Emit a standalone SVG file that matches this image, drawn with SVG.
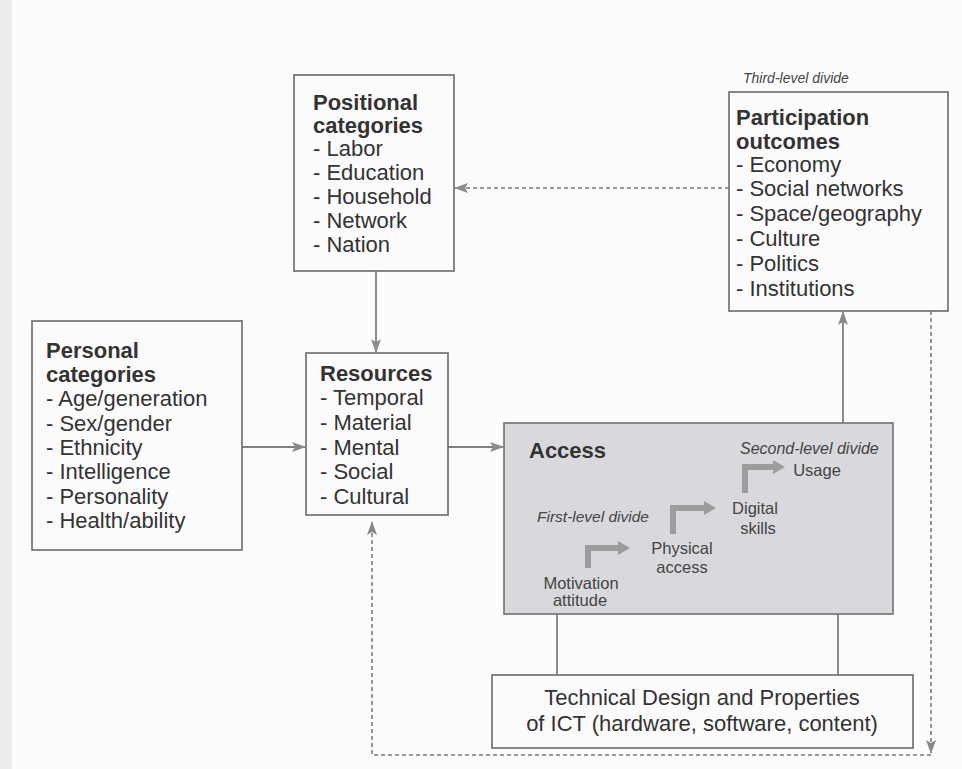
<svg xmlns="http://www.w3.org/2000/svg" width="962" height="769" viewBox="0 0 962 769">
  <defs>
    <style>
      .box { fill: #fbfbfb; stroke: #6a6a6a; stroke-width: 1.6; }
      .access { fill: #d9d9dd; stroke: #707070; stroke-width: 1.6; }
      .t { font-family: "Liberation Sans", Arial, sans-serif; font-size: 22px; fill: #333; }
      .b { font-weight: bold; }
      .it { font-family: "Liberation Sans", Arial, sans-serif; font-style: italic; fill: #444; }
      .s { font-family: "Liberation Sans", Arial, sans-serif; font-size: 16.5px; fill: #444; text-anchor: middle; }
      .conn { stroke: #808080; stroke-width: 1.8; fill: none; }
      .dash { stroke: #7a7a7a; stroke-width: 1.6; fill: none; stroke-dasharray: 4 3; }
      .bent { stroke: #9c9c9c; stroke-width: 6; fill: none; }
    </style>
    <marker id="ah" viewBox="0 0 14 10" refX="13" refY="5" markerWidth="14" markerHeight="10" markerUnits="userSpaceOnUse" orient="auto">
      <path d="M0,0 L14,5 L0,10 L3,5 Z" fill="#8a8a8a"/>
    </marker>
    <marker id="bh" viewBox="0 0 12 14" refX="4" refY="7" markerWidth="12" markerHeight="14" markerUnits="userSpaceOnUse" orient="auto">
      <path d="M0,0 L12,7 L0,14 Z" fill="#9c9c9c"/>
    </marker>
  </defs>
  <rect x="0" y="0" width="962" height="769" fill="#fcfcfc"/>
  <rect x="0" y="0" width="12" height="769" fill="#ececec"/>

  <g id="connectors">
    <line class="conn" x1="376" y1="271" x2="376" y2="352" marker-end="url(#ah)"/>
    <line class="conn" x1="242" y1="447" x2="305" y2="447" marker-end="url(#ah)"/>
    <line class="conn" x1="448" y1="447" x2="503" y2="447" marker-end="url(#ah)"/>
    <line class="conn" x1="843" y1="423" x2="843" y2="312" marker-end="url(#ah)"/>
    <line class="dash" x1="729" y1="188" x2="455" y2="188" marker-end="url(#ah)"/>
    <line class="conn" x1="557" y1="614" x2="557" y2="675"/>
    <line class="conn" x1="838" y1="614" x2="838" y2="675"/>
    <path class="dash" d="M931,311 V753" marker-end="url(#ah)"/>
    <path class="dash" d="M931,755 H372 V522" marker-end="url(#ah)"/>
  </g>

  <g id="positional">
    <rect class="box" x="294" y="75" width="160" height="196"/>
    <text class="t b" x="313" y="110">Positional</text>
    <text class="t b" x="313" y="133">categories</text>
    <text class="t" x="313" y="156">- Labor</text>
    <text class="t" x="313" y="180">- Education</text>
    <text class="t" x="313" y="204">- Household</text>
    <text class="t" x="313" y="228">- Network</text>
    <text class="t" x="313" y="252">- Nation</text>
  </g>

  <g id="participation">
    <text class="it" x="743" y="83" font-size="14">Third-level divide</text>
    <rect class="box" x="729" y="92" width="219" height="219"/>
    <text class="t b" x="736" y="125">Participation</text>
    <text class="t b" x="736" y="149">outcomes</text>
    <text class="t" x="736" y="172">- Economy</text>
    <text class="t" x="736" y="196">- Social networks</text>
    <text class="t" x="736" y="221">- Space/geography</text>
    <text class="t" x="736" y="246">- Culture</text>
    <text class="t" x="736" y="271">- Politics</text>
    <text class="t" x="736" y="296">- Institutions</text>
  </g>

  <g id="personal">
    <rect class="box" x="32" y="321" width="210" height="229"/>
    <text class="t b" x="46" y="358">Personal</text>
    <text class="t b" x="46" y="382">categories</text>
    <text class="t" x="46" y="406">- Age/generation</text>
    <text class="t" x="46" y="431">- Sex/gender</text>
    <text class="t" x="46" y="455">- Ethnicity</text>
    <text class="t" x="46" y="479">- Intelligence</text>
    <text class="t" x="46" y="504">- Personality</text>
    <text class="t" x="46" y="528">- Health/ability</text>
  </g>

  <g id="resources">
    <rect class="box" x="306" y="353" width="142" height="162"/>
    <text class="t b" x="320" y="381">Resources</text>
    <text class="t" x="320" y="405">- Temporal</text>
    <text class="t" x="320" y="430">- Material</text>
    <text class="t" x="320" y="455">- Mental</text>
    <text class="t" x="320" y="479">- Social</text>
    <text class="t" x="320" y="504">- Cultural</text>
  </g>

  <g id="access">
    <rect class="access" x="504" y="423" width="389" height="191"/>
    <text class="t b" x="529" y="458">Access</text>
    <text class="it" x="740" y="454" font-size="16">Second-level divide</text>
    <text class="s" x="817" y="476">Usage</text>
    <text class="s" x="755" y="514">Digital</text>
    <text class="s" x="758" y="534">skills</text>
    <text class="it" x="537" y="522" font-size="15.5">First-level divide</text>
    <text class="s" x="682" y="554">Physical</text>
    <text class="s" x="682" y="573">access</text>
    <text class="s" x="581" y="589">Motivation</text>
    <text class="s" x="580" y="606">attitude</text>
    <path class="bent" d="M588,568 V548 H622" marker-end="url(#bh)"/>
    <path class="bent" d="M673,534 V508 H708" marker-end="url(#bh)"/>
    <path class="bent" d="M745,493 V467 H777" marker-end="url(#bh)"/>
  </g>

  <g id="technical">
    <rect class="box" x="492" y="675" width="421" height="73"/>
    <text class="t" x="702" y="705" text-anchor="middle" font-size="22.5">Technical Design and Properties</text>
    <text class="t" x="702" y="731" text-anchor="middle" font-size="22.5">of ICT (hardware, software, content)</text>
  </g>
</svg>
